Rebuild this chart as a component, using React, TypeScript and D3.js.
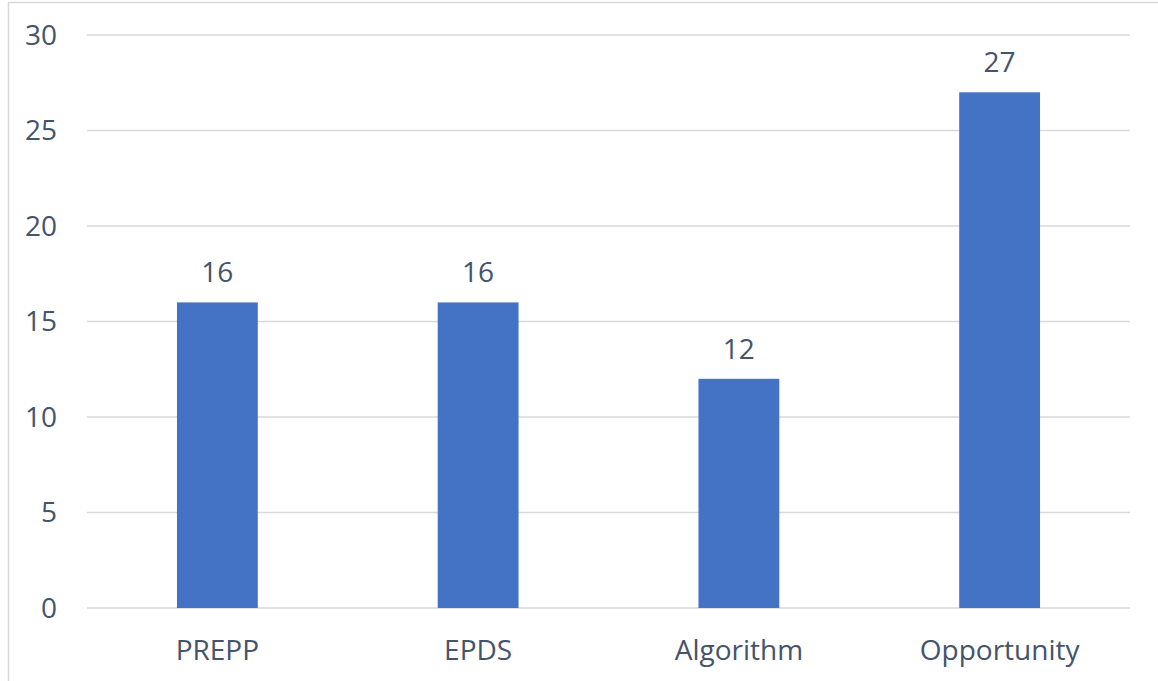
import React from "react";
import * as d3 from "d3";

const categories = ["PREPP", "EPDS", "Algorithm", "Opportunity"];
const values = [16, 16, 12, 27];
const yTicks = [0, 5, 10, 15, 20, 25, 30];

const W = 1158;
const H = 681;
const left = 87;
const right = 1130;
const top = 35;
const bottom = 608;
const font = "'Open Sans', 'Noto Sans', sans-serif";
const textColor = "#44546A";
const fs = 28;

export default function App() {
  const x = d3.scaleBand<string>().domain(categories).range([left, right]).paddingInner(0.69).paddingOuter(0.345);
  const y = d3.scaleLinear().domain([0, 30]).range([bottom, top]);
  return (
    <svg width={W} height={H} style={{ position: "absolute", left: 0, top: 0, background: "#fff" }}>
      <rect x={8.5} y={2.5} width={W} height={H} fill="#fff" stroke="#d9d9d9" strokeWidth={1.5} />
      {yTicks.map((t) => (
        <g key={t}>
          <line x1={left} x2={right} y1={y(t)} y2={y(t)} stroke="#d9d9d9" strokeWidth={1.5} />
          <text x={57} y={y(t)} dy="0.35em" textAnchor="end" fontFamily={font} fontSize={fs} fill={textColor}>
            {t}
          </text>
        </g>
      ))}
      {categories.map((c, i) => (
        <g key={c}>
          <rect x={x(c)} y={y(values[i])} width={x.bandwidth()} height={bottom - y(values[i])} fill="#4472C4" />
          <text x={(x(c) as number) + x.bandwidth() / 2} y={y(values[i]) - 20} textAnchor="middle" fontFamily={font} fontSize={fs} fill={textColor}>
            {values[i]}
          </text>
          <text x={(x(c) as number) + x.bandwidth() / 2} y={660} textAnchor="middle" fontFamily={font} fontSize={fs} fill={textColor}>
            {c}
          </text>
        </g>
      ))}
    </svg>
  );
}
